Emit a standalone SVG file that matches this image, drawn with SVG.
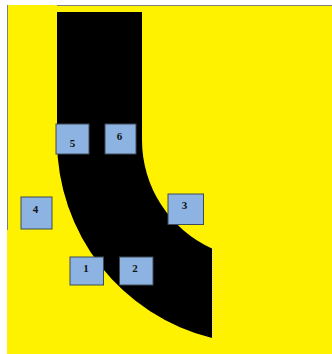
<svg xmlns="http://www.w3.org/2000/svg" width="332" height="354" viewBox="0 0 332 354">
<style>
.box{fill:#8db3e2;stroke:#3f4a57;stroke-width:1}
.lbl{font-family:"Liberation Serif",serif;font-weight:bold;font-size:11px;fill:#111;text-anchor:middle}
</style>
<rect x="0" y="0" width="332" height="354" fill="#ffffff"/>
<rect x="7" y="5" width="325" height="349" fill="#fff200"/>
<line x1="7.5" y1="5" x2="7.5" y2="230" stroke="#808080" stroke-width="1"/>
<line x1="57" y1="5.5" x2="332" y2="5.5" stroke="#808080" stroke-width="1"/>
<g id="road">
<path d="M57,12 H142 V140 A119,119 0 0,0 212,248.4 V338 A204,204 0 0,1 57,140 Z" fill="#000"/>
<line x1="212.5" y1="248" x2="212.5" y2="338" stroke="#d8d8d8" stroke-width="1" stroke-dasharray="1,1"/>
</g>
<g id="n5"><rect class="box" x="56" y="124" width="33" height="30"/><text class="lbl" x="72.5" y="146.5">5</text></g>
<g id="n6"><rect class="box" x="105" y="124" width="31" height="30"/><text class="lbl" x="119.5" y="139.5">6</text></g>
<g id="n4"><rect class="box" x="21" y="197" width="31" height="32"/><text class="lbl" x="35.5" y="213">4</text></g>
<g id="n3"><rect class="box" x="168" y="194" width="35.5" height="30.5"/><text class="lbl" x="184.5" y="209">3</text></g>
<g id="n1"><rect class="box" x="70" y="257" width="33.5" height="28"/><text class="lbl" x="86" y="271.5">1</text></g>
<g id="n2"><rect class="box" x="119.5" y="257" width="33.5" height="28"/><text class="lbl" x="135" y="272">2</text></g>
<g id="connectors"></g>
</svg>
